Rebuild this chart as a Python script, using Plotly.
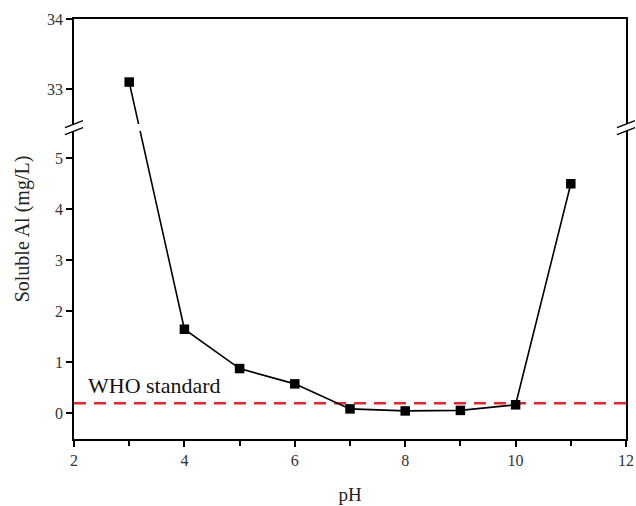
import plotly.graph_objects as go

# data
ph = [3, 4, 5, 6, 7, 8, 9, 10, 11]
soluble_al = [33.1, 1.65, 0.88, 0.58, 0.09, 0.05, 0.06, 0.17, 4.5]
who_limit = 0.2
y_tick_values = [0, 1, 2, 3, 4, 5, 33, 34]
x_tick_values = [2, 4, 6, 8, 10, 12]

# broken y axis: lower segment up to BRK_LOW, upper segment from BRK_HIGH
BRK_LOW = 5.6
BRK_HIGH = 32.45
UPPER_SCALE = 70 / 51  # upper segment is stretched relative to lower


def squash(v):
    if v <= BRK_LOW:
        return v
    return BRK_LOW + (v - BRK_HIGH) * UPPER_SCALE


FONT = "Liberation Serif, Times New Roman, serif"

fig = go.Figure()

fig.add_trace(go.Scatter(
    x=[2, 12], y=[who_limit, who_limit],
    mode="lines",
    line=dict(color="#e0282e", width=2.5, dash="12px,8px"),
    hoverinfo="skip",
))

fig.add_trace(go.Scatter(
    x=ph, y=[squash(v) for v in soluble_al],
    mode="lines+markers",
    line=dict(color="black", width=1.6),
    marker=dict(symbol="square", size=9.5, color="black"),
))

# break marks on both vertical axes, plus a gap through the data line
shapes = [dict(
    type="rect", xref="paper", yref="y", x0=0, x1=1,
    ysizemode="pixel", yanchor=BRK_LOW, y0=-3.5, y1=3.5,
    fillcolor="white", line=dict(width=0), layer="above",
)]
for side in (0, 1):
    shapes.append(dict(
        type="path", xref="paper", yref="y",
        xsizemode="pixel", xanchor=side, ysizemode="pixel", yanchor=BRK_LOW,
        path="M -9,0 L 9,7 L 9,0 L -9,-7 Z",
        fillcolor="white", line=dict(width=0), layer="above",
    ))
    for off in (0, -7):
        shapes.append(dict(
            type="line", xref="paper", yref="y",
            xsizemode="pixel", xanchor=side, ysizemode="pixel", yanchor=BRK_LOW,
            x0=-9, y0=off, x1=9, y1=off + 7,
            line=dict(color="black", width=1.5), layer="above",
        ))

fig.update_layout(
    width=636, height=506,
    margin=dict(l=74, r=10, t=19, b=67),
    plot_bgcolor="white", paper_bgcolor="white",
    showlegend=False,
    font=dict(family=FONT, color="#222"),
    shapes=shapes,
    annotations=[dict(
        x=2.22, y=0.55, xref="x", yref="y", xanchor="left", yanchor="middle",
        text="WHO standard", showarrow=False,
        font=dict(family=FONT, size=22, color="#111"),
    )],
    xaxis=dict(
        range=[2, 12], tickvals=x_tick_values, automargin=False,
        showline=True, linecolor="black", linewidth=1.5, mirror=True,
        ticks="outside", ticklen=6, tickwidth=1.5, tickcolor="black",
        minor=dict(dtick=1, tick0=2, ticks="outside", ticklen=5, tickwidth=1.5, tickcolor="black"),
        showgrid=False, zeroline=False,
        tickfont=dict(size=16, color="#333"),
        title=dict(text="pH", font=dict(size=19), standoff=20),
    ),
    yaxis=dict(
        range=[-0.5, squash(34)], automargin=False,
        tickvals=[squash(v) for v in y_tick_values],
        ticktext=[str(v) for v in y_tick_values],
        showline=True, linecolor="black", linewidth=1.5, mirror=True,
        ticks="outside", ticklen=6, tickwidth=1.5, tickcolor="black",
        showgrid=False, zeroline=False,
        tickfont=dict(size=16, color="#333"),
        title=dict(text="Soluble Al (mg/L)", font=dict(size=20), standoff=12),
    ),
)

fig.write_html(
    "out.html",
    config={"displayModeBar": False},
    post_script="document.body.style.margin='0';",
)
